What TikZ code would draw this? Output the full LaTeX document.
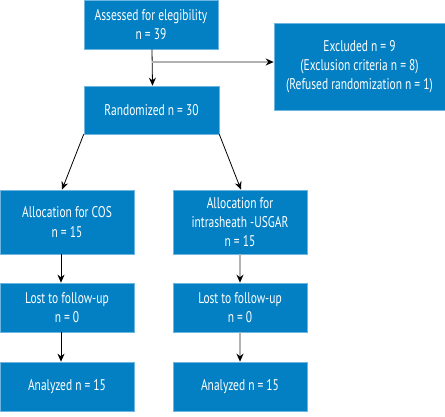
\documentclass[tikz,border=0pt]{standalone}
\usepackage{fontspec}
\setmainfont[FakeStretch=0.74]{PT Sans}
\usetikzlibrary{arrows.meta,calc}
\definecolor{boxblue}{HTML}{0380C4}
\definecolor{boxedge}{HTML}{6DB6E2}
\begin{document}
\begin{tikzpicture}[x=1pt,y=-1pt,
  box/.style={draw=boxedge,line width=0.6pt,fill=boxblue,text=white,align=center,
    inner sep=0pt,font=\fontsize{15.5}{19.3}\selectfont},
  blk/.style={draw=black,line width=0.8pt,-{Stealth[length=8pt,width=7pt]}},
  gry/.style={draw=black!30,line width=1.4pt,-{Stealth[length=8pt,width=7pt,color=black]}}]
\useasboundingbox (0,0) rectangle (445,416);
\node[box,minimum width=134pt,minimum height=49pt] (assess) at (151,24.5) {Assessed for elegibility\\n = 39};
\node[box,minimum width=171pt,minimum height=87pt] (excl) at (359.5,66.5) {Excluded n = 9\\(Exclusion criteria n = 8)\\(Refused randomization n = 1)};
\node[box,minimum width=135pt,minimum height=48pt] (rand) at (151.5,110) {Randomized n = 30};
\node[box,minimum width=134pt,minimum height=64pt] (cos) at (67,222) {Allocation for COS\\n = 15};
\node[box,minimum width=134pt,minimum height=64pt] (usg) at (240,222) {Allocation for\\intrasheath -USGAR\\n = 15};
\node[box,minimum width=134pt,minimum height=49pt] (lost1) at (67,307.5) {Lost to follow-up\\n = 0};
\node[box,minimum width=134pt,minimum height=49pt] (lost2) at (240,307.5) {Lost to follow-up\\n = 0};
\node[box,minimum width=134pt,minimum height=49pt] (an1) at (67,386.5) {Analyzed n = 15};
\node[box,minimum width=134pt,minimum height=49pt] (an2) at (240,386.5) {Analyzed n = 15};
\coordinate (br) at (152,62);
\draw[blk] ([xshift=1pt]assess.south) -- ([xshift=1pt]rand.north);
\draw[gry] (br) -- (br -| excl.west);
\draw[blk] (rand.south west) -- ([xshift=-5pt]cos.north);
\draw[blk] (rand.south east) -- ([xshift=1pt]usg.north);
\draw[blk] ([xshift=-6pt]cos.south) -- ([xshift=-6pt]lost1.north);
\draw[blk] ([xshift=-6pt]lost1.south) -- ([xshift=-6pt]an1.north);
\draw[gry] (usg.south) -- (lost2.north);
\draw[gry] (lost2.south) -- (an2.north);
\end{tikzpicture}
\end{document}
